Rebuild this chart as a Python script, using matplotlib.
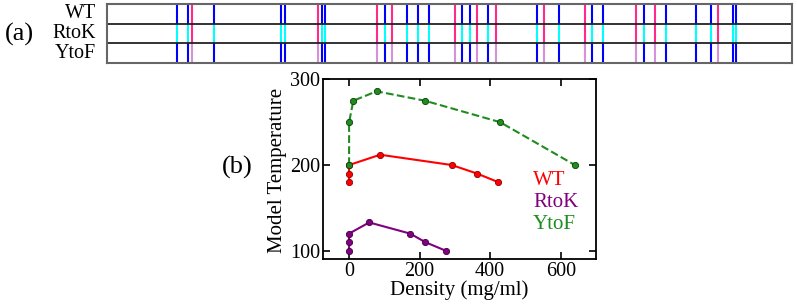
import matplotlib
matplotlib.use("Agg")
import matplotlib.pyplot as plt

plt.rcParams['font.family'] = ['Liberation Serif', 'DejaVu Serif']

# panel (a): residue positions along the sequence
r_pos = [19, 22, 29, 47, 48, 58, 59, 75, 81, 84, 87, 96, 98, 103, 116, 122,
         131, 134, 145, 151, 159, 163, 169, 170]
y_pos = [23, 57, 73, 77, 94, 100, 105, 118, 129, 143, 148, 165]
seq_len = 185
rows = ['WT', 'RtoK', 'YtoF']
# colour of R and Y marks in each row
r_colors = {'WT': '#0000ff', 'RtoK': '#00ffff', 'YtoF': '#0000ff'}
y_colors = {'WT': '#ff2a8a', 'RtoK': '#ff2a8a', 'YtoF': '#d890dc'}

# panel (b): model temperature vs density
wt_x = [0, 0, 0, 88, 291, 363, 423]
wt_y = [180, 190, 200, 212, 200, 190, 180]
rk_x = [0, 0, 0, 57, 173, 216, 274]
rk_y = [100, 110, 120, 133, 120, 110, 100]
yf_x = [0, 0, 12, 78, 215, 428, 640]
yf_y = [200, 250, 275, 286, 275, 250, 200]

W, H = 797, 304
fig = plt.figure(figsize=(W / 100, H / 100), dpi=100)

# ---- panel (a)
axa = fig.add_axes([107 / W, 1 - 63 / H, 685 / W, 59 / H])
axa.set_xlim(0, seq_len)
axa.set_ylim(0, 3)
for i, name in enumerate(rows):
    top = 3 - i
    axa.vlines(r_pos, top - 1, top, colors=r_colors[name], lw=1.5)
    axa.vlines(y_pos, top - 1, top, colors=y_colors[name], lw=1.5)
    axa.text(-0.016, top - 0.5, name, transform=axa.get_yaxis_transform(),
             ha='right', va='center', fontsize=14.5)
axa.axhline(1, color='#222222', lw=1.3)
axa.axhline(2, color='#222222', lw=1.3)
axa.set_xticks([])
axa.set_yticks([])
for s in axa.spines.values():
    s.set_color('#666666')
    s.set_linewidth(1.5)
fig.text(19 / W, 1 - 34 / H, '(a)', ha='center', va='center', fontsize=19)

# ---- panel (b)
axb = fig.add_axes([323 / W, 1 - 259.3 / H, 273 / W, 180 / H])
ms = 4.5
axb.plot(wt_x, wt_y, '-o', color='red', lw=1.5, ms=ms, mec='#8b0000', mew=0.6)
axb.plot(rk_x, rk_y, '-o', color='purple', lw=1.5, ms=ms, mec='#400040', mew=0.6)
axb.plot(yf_x, yf_y, '--o', color='#1e8c1e', lw=1.5, ms=ms, mec='#0a400a', mew=0.6)
axb.set_xlim(-74, 700)
axb.set_ylim(90, 300)
axb.set_xticks([0, 200, 400, 600])
axb.set_yticks([100, 200, 300])
axb.tick_params(direction='in', top=True, right=True, length=5, width=1.2,
                labelsize=14.5, pad=2)
for s in axb.spines.values():
    s.set_linewidth(1.3)
axb.set_xlabel('Density (mg/ml)', fontsize=15)
axb.set_ylabel('Model Temperature', fontsize=15)
axb.xaxis.set_label_coords(0.5, -0.115)
axb.yaxis.set_label_coords(-0.132, 0.496)

lx = 0.77
axb.text(lx, 0.44, 'WT', color='red', fontsize=15, transform=axb.transAxes, va='center')
axb.text(lx, 0.315, 'RtoK', color='purple', fontsize=15, transform=axb.transAxes, va='center')
axb.text(lx, 0.195, 'YtoF', color='#1e8c1e', fontsize=15, transform=axb.transAxes, va='center')

fig.text(237 / W, 1 - 167 / H, '(b)', ha='center', va='center', fontsize=19)

fig.savefig('out.png', dpi=100)
